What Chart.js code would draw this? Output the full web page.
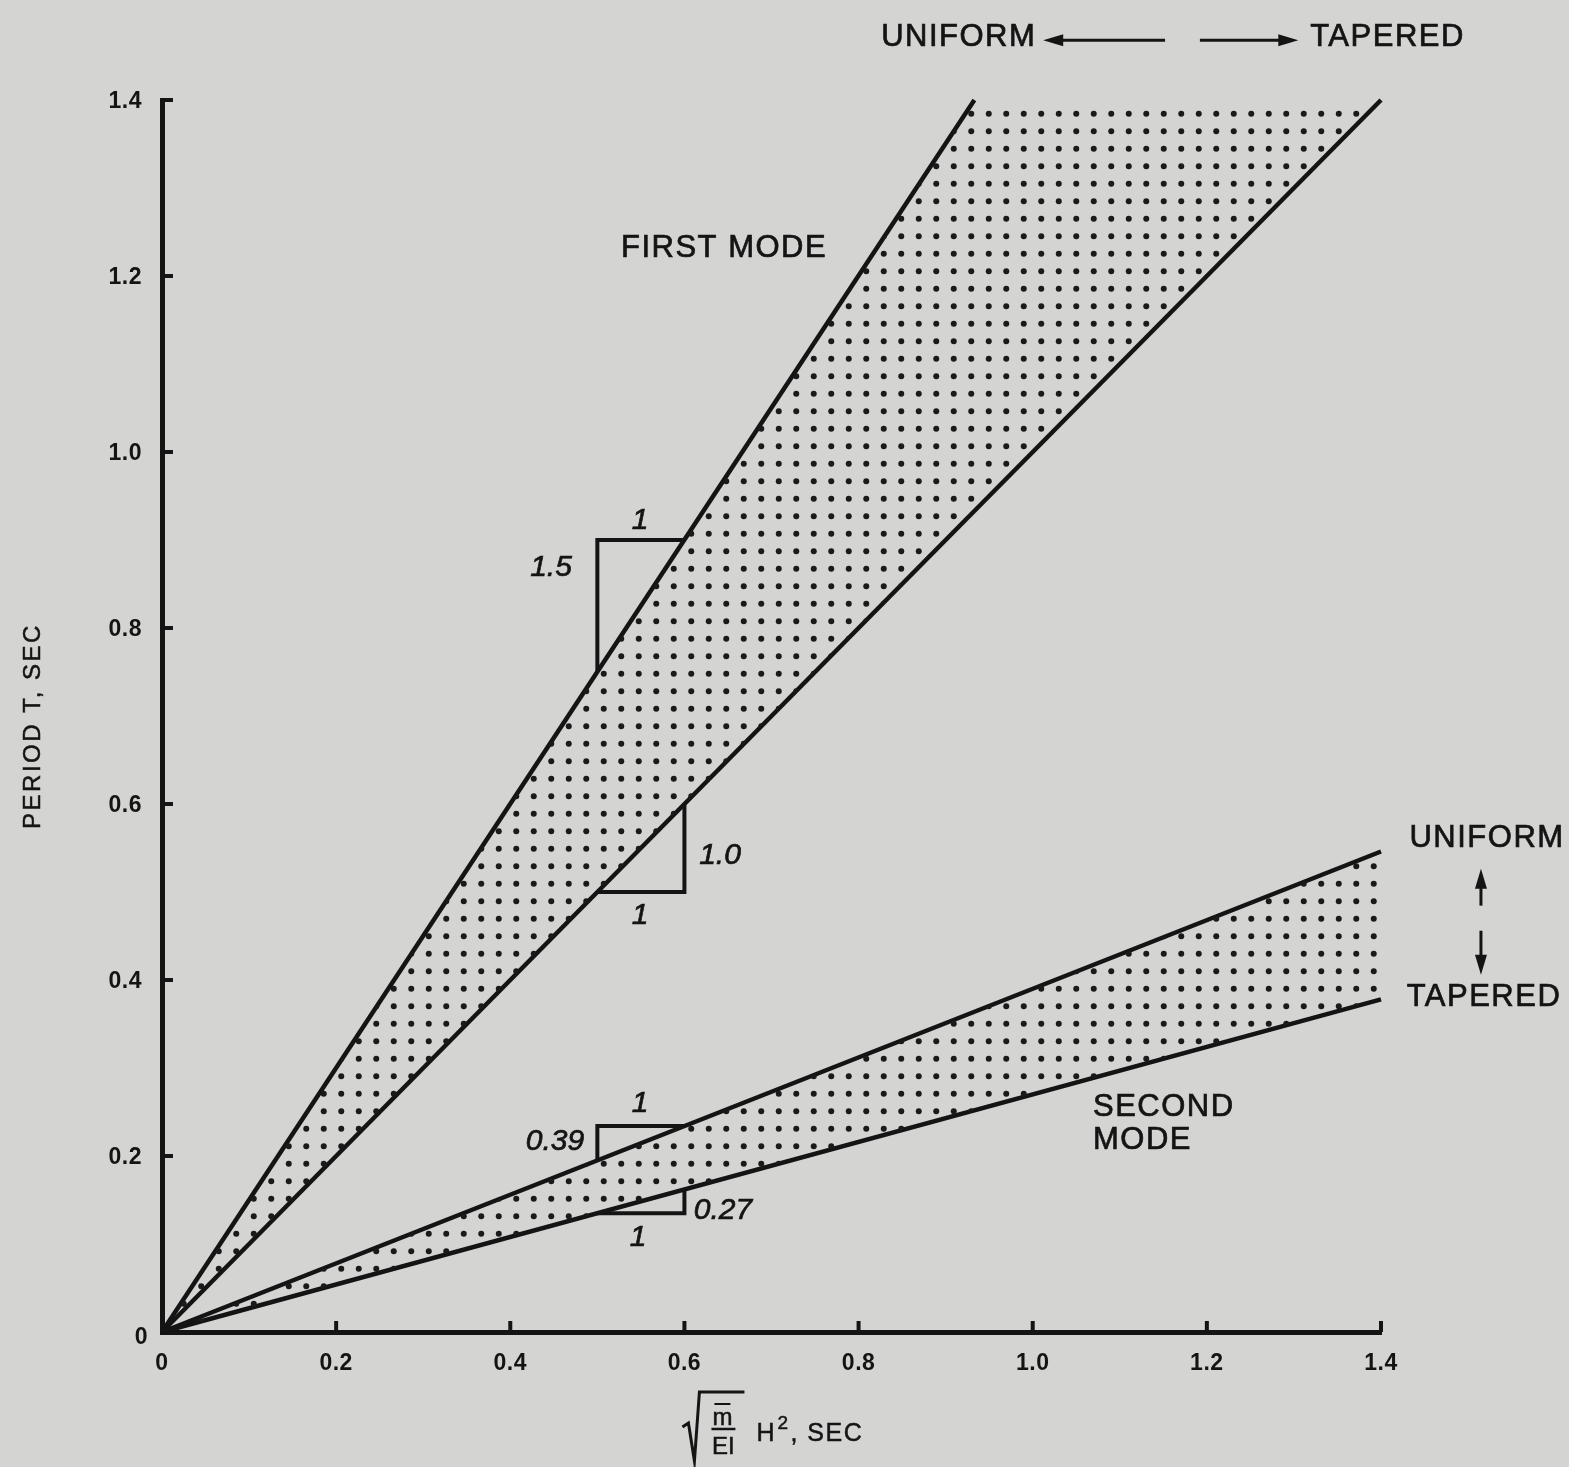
<!DOCTYPE html>
<html><head><meta charset="utf-8">
<script src="https://cdn.jsdelivr.net/npm/chart.js@4.4.1/dist/chart.umd.min.js"></script>
<style>html,body{margin:0;padding:0;background:#d4d5d3;overflow:hidden}#wrap{width:1569px;height:1467px}</style>
</head><body><div id="wrap"><canvas id="c" width="1569" height="1467"></canvas></div>
<script>
// ---- data ----
const xTicks = [0, 0.2, 0.4, 0.6, 0.8, 1.0, 1.2, 1.4];
const xTickLabels = ['0', '0.2', '0.4', '0.6', '0.8', '1.0', '1.2', '1.4'];
const yTicks = [0, 0.2, 0.4, 0.6, 0.8, 1.0, 1.2, 1.4];
const yTickLabels = ['0', '0.2', '0.4', '0.6', '0.8', '1.0', '1.2', '1.4'];
const firstUniform = [{x: 0, y: 0}, {x: 0.933, y: 1.4}];
const firstTapered = [{x: 0, y: 0}, {x: 1.4, y: 1.4}];
const secondUniform = [{x: 0, y: 0}, {x: 1.4, y: 0.546}];
const secondTapered = [{x: 0, y: 0}, {x: 1.4, y: 0.378}];
const firstUniformStep = [{x: 0.5, y: 0.75}, {x: 0.5, y: 0.9}, {x: 0.6, y: 0.9}];
const firstTaperedStep = [{x: 0.5, y: 0.5}, {x: 0.6, y: 0.5}, {x: 0.6, y: 0.6}];
const secondUniformStep = [{x: 0.5, y: 0.195}, {x: 0.5, y: 0.234}, {x: 0.6, y: 0.234}];
const secondTaperedStep = [{x: 0.5, y: 0.135}, {x: 0.6, y: 0.135}, {x: 0.6, y: 0.162}];
const slopeLabels = ['1.5', '1.0', '0.39', '0.27'];

// ---- styles ----
const INK = '#141414';
const BG = '#d4d5d3';
const FONT = '"Liberation Sans", Arial, sans-serif';

function dotPattern() {
  const c = document.createElement('canvas');
  c.width = 35; c.height = 35;
  const g = c.getContext('2d');
  g.fillStyle = '#1a1a1a';
  [[8.75, 8.75], [26.25, 8.75], [8.75, 26.25], [26.25, 26.25]].forEach(([a, b]) => {
    g.beginPath(); g.arc(a, b, 3.0, 0, Math.PI * 2); g.fill();
  });
  return document.getElementById('c').getContext('2d').createPattern(c, 'repeat');
}
const pat = dotPattern();

const firstBand = [firstUniform[0], firstUniform[1], firstTapered[1]];
const secondBand = [secondUniform[0], secondUniform[1], secondTapered[1]];

function band(data) {
  return {data, showLine: true, fill: 'shape', backgroundColor: pat, borderColor: 'rgba(0,0,0,0)',
          borderWidth: 0, pointRadius: 0, clip: false};
}
function line(data, w) {
  return {data, showLine: true, fill: false, borderColor: INK, borderWidth: w, pointRadius: 0,
          clip: false, borderJoinStyle: 'miter', borderCapStyle: 'butt'};
}

const annot = {
  id: 'annot',
  beforeDraw(chart) {
    const ctx = chart.ctx;
    ctx.save(); ctx.fillStyle = BG; ctx.fillRect(0, 0, chart.width, chart.height); ctx.restore();
  },
  afterDraw(chart) {
    const {ctx, scales: {x, y}} = chart;
    const X = v => x.getPixelForValue(v), Y = v => y.getPixelForValue(v);
    ctx.save();
    ctx.fillStyle = INK; ctx.strokeStyle = INK;
    // tick marks (inward)
    ctx.lineWidth = 4;
    xTicks.forEach(v => { if (v === 0) return; ctx.beginPath(); ctx.moveTo(X(v), Y(0)); ctx.lineTo(X(v), Y(0) - 11); ctx.stroke(); });
    yTicks.forEach(v => { if (v === 0) return; ctx.beginPath(); ctx.moveTo(X(0), Y(v)); ctx.lineTo(X(0) + 11, Y(v)); ctx.stroke(); });
    // tick labels
    ctx.font = 'bold 23px ' + FONT; ctx.textBaseline = 'middle';
    ctx.letterSpacing = '0.5px';
    ctx.textAlign = 'center';
    xTicks.forEach((v, i) => ctx.fillText(xTickLabels[i], X(v), Y(0) + 32));
    ctx.textAlign = 'right';
    yTicks.forEach((v, i) => {
      if (v === 0) ctx.fillText(yTickLabels[i], X(0) - 14, Y(v) + 6);
      else ctx.fillText(yTickLabels[i], X(0) - 20, Y(v) + 2);
    });

    // text annotations (regular weight with slight stroke for heft)
    ctx.lineWidth = 0.7;
    const txt = (t, xv, yv, font, align) => {
      ctx.font = font; ctx.textAlign = align || 'center'; ctx.textBaseline = 'middle';
      ctx.fillText(t, X(xv), Y(yv));
      ctx.strokeText(t, X(xv), Y(yv));
    };
    const big = '31px ' + FONT;
    ctx.letterSpacing = '1.5px';
    txt('UNIFORM', 0.915, 1.4716, big);
    txt('TAPERED', 1.4075, 1.4716, big);
    txt('UNIFORM', 1.5218, 0.5607, big);
    txt('TAPERED', 1.5183, 0.3798, big);
    txt('FIRST MODE', 0.6455, 1.2317, big);
    txt('SECOND', 1.0692, 0.2547, big, 'left');
    txt('MODE', 1.0692, 0.2172, big, 'left');

    // italic slope labels
    const it = 'italic 30px ' + FONT;
    ctx.letterSpacing = '0px';
    txt('1', 0.549, 0.9223, it);
    txt(slopeLabels[0], 0.4468, 0.8689, it);
    txt(slopeLabels[1], 0.6409, 0.5413, it);
    txt('1', 0.549, 0.4731, it);
    txt('1', 0.549, 0.2593, it);
    txt(slopeLabels[2], 0.4514, 0.2161, it);
    txt(slopeLabels[3], 0.6443, 0.1376, it);
    txt('1', 0.5467, 0.1069, it);

    // arrows
    const arrow = (x1, y1, x2, y2) => {
      const a = X(x1), b = Y(y1), c = X(x2), d = Y(y2);
      const ang = Math.atan2(d - b, c - a);
      const hl = 20, hw = 6;
      ctx.lineWidth = 3;
      ctx.beginPath(); ctx.moveTo(a, b); ctx.lineTo(c - Math.cos(ang) * hl * 0.8, d - Math.sin(ang) * hl * 0.8); ctx.stroke();
      ctx.beginPath();
      ctx.moveTo(c, d);
      ctx.lineTo(c - Math.cos(ang) * hl - Math.sin(ang) * hw, d - Math.sin(ang) * hl + Math.cos(ang) * hw);
      ctx.lineTo(c - Math.cos(ang) * hl + Math.sin(ang) * hw, d - Math.sin(ang) * hl - Math.cos(ang) * hw);
      ctx.closePath(); ctx.fill();
    };
    arrow(1.152, 1.468, 1.012, 1.468);
    arrow(1.192, 1.468, 1.305, 1.468);
    arrow(1.5148, 0.4845, 1.5148, 0.5265);
    arrow(1.5148, 0.456, 1.5148, 0.406);

    // y-axis title
    ctx.save();
    ctx.translate(33, (Y(0.6) + Y(0.8)) / 2 + 10);
    ctx.rotate(-Math.PI / 2);
    ctx.font = '24px ' + FONT; ctx.textAlign = 'center'; ctx.textBaseline = 'middle';
    ctx.letterSpacing = '2.5px';
    ctx.lineWidth = 0.5;
    ctx.fillText('PERIOD T, SEC', 0, 0);
    ctx.strokeText('PERIOD T, SEC', 0, 0);
    ctx.restore();

    // x-axis title: sqrt(m/EI) H^2, SEC
    const ox = X(0.6), oy = Y(0);
    ctx.lineWidth = 3; ctx.lineJoin = 'miter';
    ctx.beginPath();
    ctx.moveTo(ox - 2, oy + 95);
    ctx.lineTo(ox + 4, oy + 91);
    ctx.lineTo(ox + 10, oy + 129);
    ctx.lineTo(ox + 15, oy + 60);
    ctx.lineTo(ox + 60, oy + 60);
    ctx.stroke();
    ctx.font = '24px ' + FONT; ctx.textAlign = 'center'; ctx.textBaseline = 'middle';
    ctx.letterSpacing = '0px';
    ctx.lineWidth = 0.5;
    ctx.fillText('m', ox + 38, oy + 86); ctx.strokeText('m', ox + 38, oy + 86);
    ctx.lineWidth = 2;
    ctx.beginPath(); ctx.moveTo(ox + 30, oy + 72); ctx.lineTo(ox + 46, oy + 72); ctx.stroke();
    ctx.lineWidth = 2.5;
    ctx.beginPath(); ctx.moveTo(ox + 27, oy + 97); ctx.lineTo(ox + 51, oy + 97); ctx.stroke();
    ctx.lineWidth = 0.5;
    ctx.fillText('EI', ox + 39, oy + 115); ctx.strokeText('EI', ox + 39, oy + 115);
    ctx.textAlign = 'left';
    ctx.font = '25px ' + FONT;
    ctx.fillText('H', ox + 72, oy + 102); ctx.strokeText('H', ox + 72, oy + 102);
    ctx.font = '19px ' + FONT;
    ctx.fillText('2', ox + 93, oy + 92); ctx.strokeText('2', ox + 93, oy + 92);
    ctx.font = '25px ' + FONT;
    ctx.letterSpacing = '1.5px';
    ctx.fillText(', SEC', ox + 106, oy + 102); ctx.strokeText(', SEC', ox + 106, oy + 102);
    ctx.restore();
  }
};

new Chart(document.getElementById('c'), {
  type: 'scatter',
  data: {
    datasets: [
      band(firstBand),
      band(secondBand),
      line(firstUniform, 4.5),
      line(firstTapered, 4.5),
      line(secondUniform, 4.5),
      line(secondTapered, 4.5),
      line(firstUniformStep, 4),
      line(firstTaperedStep, 4),
      line(secondUniformStep, 4),
      line(secondTaperedStep, 4)
    ]
  },
  options: {
    responsive: false,
    animation: false,
    devicePixelRatio: 1,
    layout: {padding: {left: 154, right: 188, top: 100, bottom: 127}},
    plugins: {legend: {display: false}, tooltip: {enabled: false}, title: {display: false}},
    scales: {
      x: {type: 'linear', min: 0, max: 1.4, ticks: {display: false}, grid: {display: false},
          border: {display: true, color: INK, width: 5}},
      y: {type: 'linear', min: 0, max: 1.4, ticks: {display: false}, grid: {display: false},
          border: {display: true, color: INK, width: 5}}
    }
  },
  plugins: [annot]
});
</script>
</body></html>
